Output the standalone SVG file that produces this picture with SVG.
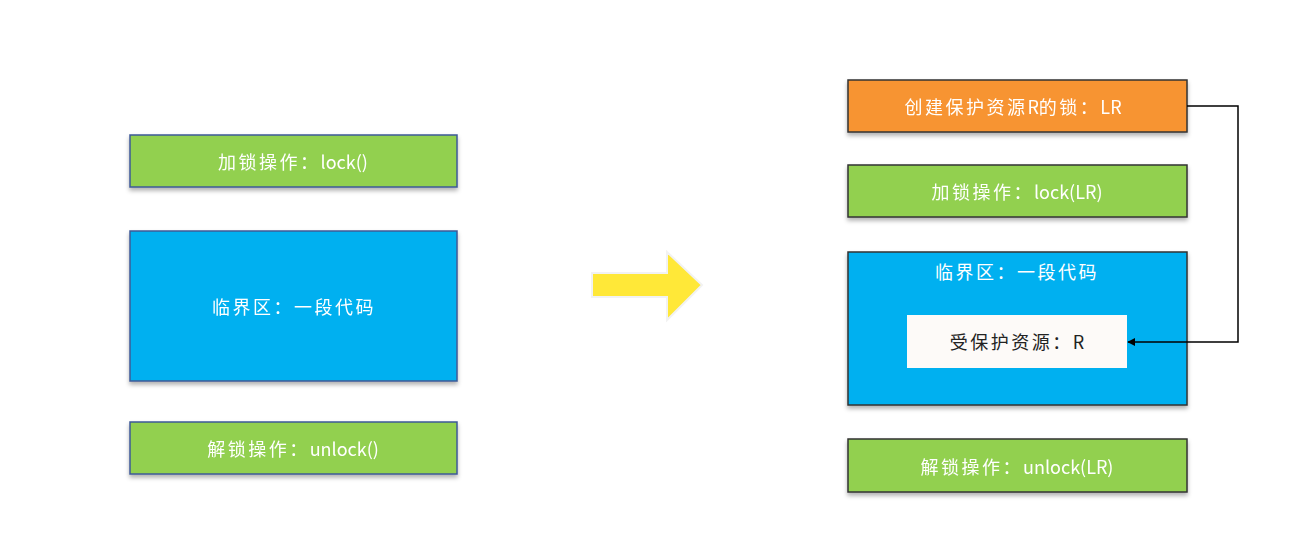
<svg xmlns="http://www.w3.org/2000/svg" width="1290" height="554" viewBox="0 0 1290 554">
<defs>
<filter id="sh" x="-5%" y="-10%" width="110%" height="130%">
<feDropShadow dx="0" dy="3" stdDeviation="2" flood-color="#000" flood-opacity="0.3"/>
</filter>
<marker id="ah" viewBox="0 0 10 10" refX="9" refY="5" markerWidth="8" markerHeight="8" markerUnits="userSpaceOnUse" orient="auto">
<path d="M0,0 L10,5 L0,10 z" fill="#000"/>
</marker>
</defs>
<style>
.t{font-family:"Noto Sans CJK SC","Noto Sans",sans-serif;font-size:18px;fill:#fff;text-anchor:middle;dominant-baseline:central}
.w{letter-spacing:2.5px}
.d{fill:#222}
.g{fill:#92D050}
.b{fill:#00B0F0}
.o{fill:#F79433}
.lb{stroke:#3C5A96;stroke-width:1.5}
.rb{stroke:#333;stroke-width:1.5}
</style>
<rect width="1290" height="554" fill="#fff"/>
<g id="lock-left" filter="url(#sh)"><rect class="g lb" x="130" y="135" width="327" height="52"/><text class="t" x="293" y="161"><tspan class="w">加锁操作：</tspan>lock()</text></g>
<g id="critical-left" filter="url(#sh)"><rect class="b lb" x="130" y="231" width="327" height="150"/><text class="t w" x="294" y="306">临界区：一段代码</text></g>
<g id="unlock-left" filter="url(#sh)"><rect class="g lb" x="130" y="422" width="327" height="52"/><text class="t" x="293" y="448"><tspan class="w">解锁操作：</tspan>unlock()</text></g>
<g id="big-arrow"><polygon points="592,273 667,273 667,252 702,285 667,320 667,297 592,297" fill="#FFE838" stroke="#f2f2f2" stroke-width="2"/></g>
<g id="create-lock" filter="url(#sh)"><rect class="o rb" x="848" y="80" width="339" height="52"/><text class="t" x="1013" y="106"><tspan class="w">创建保护资源</tspan>R<tspan class="w">的锁：</tspan>LR</text></g>
<g id="lock-right" filter="url(#sh)"><rect class="g rb" x="848" y="165" width="339" height="52"/><text class="t" x="1017" y="191"><tspan class="w">加锁操作：</tspan>lock(LR)</text></g>
<g id="critical-right"><rect class="b rb" x="848" y="252" width="339" height="153" filter="url(#sh)"/><text class="t w" x="1017" y="271">临界区：一段代码</text></g>
<g id="resource"><rect x="907" y="315" width="220" height="53" fill="#FDFAF8"/><text class="t d" x="1017" y="341"><tspan class="w">受保护资源：</tspan>R</text></g>
<g id="unlock-right" filter="url(#sh)"><rect class="g rb" x="848" y="439" width="339" height="53"/><text class="t" x="1017" y="466"><tspan class="w">解锁操作：</tspan>unlock(LR)</text></g>
<g id="connectors"><polyline points="1187,106 1238,106 1238,342 1128,342" fill="none" stroke="#000" stroke-width="1.5" marker-end="url(#ah)"/></g>
</svg>
